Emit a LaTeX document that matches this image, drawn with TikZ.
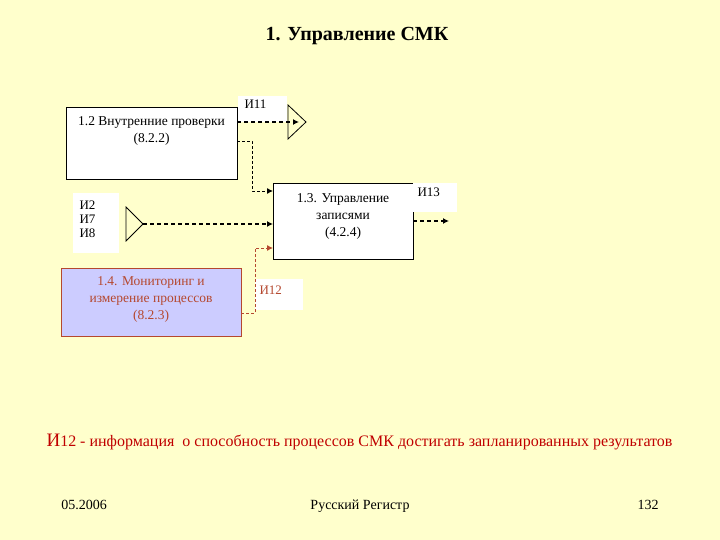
\documentclass[tikz,border=0pt]{standalone}
\usepackage{fontspec}
\setmainfont{Liberation Serif}
\newfontfamily\tnr{Liberation Serif}
\usetikzlibrary{arrows.meta,shapes.geometric}
\definecolor{bgyel}{HTML}{FFFFCC}
\definecolor{brownred}{HTML}{B5482F}
\definecolor{lav}{HTML}{CCCCFF}
\definecolor{capred}{HTML}{C00000}
\tikzset{
  every node/.style={font=\tnr},
  procbox/.style={draw=black, fill=white, line width=0.8pt, inner sep=0pt},
  lblbox/.style={fill=white, draw=none, inner sep=0pt},
  flow/.style={line width=1.4pt, dash pattern=on 4pt off 3pt, -{Latex[length=6pt,width=6pt]}},
  thinflow/.style={line width=0.9pt, dash pattern=on 3pt off 2pt, -{Latex[length=6pt,width=6pt]}},
  boxtxt/.style={font=\tnr\fontsize{13.5}{17}\selectfont, align=center},
  lbltxt/.style={font=\tnr\fontsize{13}{14}\selectfont},
  foottxt/.style={font=\tnr\fontsize{14}{16}\selectfont, anchor=base},
  tri/.style={draw=black, line width=0.8pt, fill=bgyel},
}
\begin{document}
\begin{tikzpicture}[x=1pt,y=-1pt]
\fill[bgyel] (0,0) rectangle (720,540);
\useasboundingbox (0,0) rectangle (720,540);

% title
\node[font=\tnr\fontsize{20}{22}\selectfont\bfseries] (title) at (357,36) {1. Управление СМК};

% box 1.2
\draw[procbox] (66,107) rectangle (237,179);
\node[boxtxt, anchor=north] (t12) at (151.5,113) {1.2 Внутренние проверки\\(8.2.2)};
\coordinate (b12o1) at (237,122);
\coordinate (b12o2) at (237,141);

% label И11
\fill[lblbox] (238,96) rectangle (287,122);
\node[lbltxt, anchor=west] (l11) at (241,104) {И11};

% triangle 1 (output)
\draw[tri] (288,105) -- (306,122) -- (288,139) -- cycle;
\coordinate (tri1) at (299,122);

% box 1.3
\draw[procbox] (273,183) rectangle (413,259);
\node[boxtxt, anchor=north] (t13) at (343,190) {1.3. Управление\\записями\\(4.2.4)};
\coordinate (b13i1) at (273,191);
\coordinate (b13i2) at (273,224);
\coordinate (b13i3) at (273,248);
\coordinate (b13o) at (413,221);

% label И13
\fill[lblbox] (413,183) rectangle (457,212);
\node[lbltxt, anchor=west] (l13) at (414,192) {И13};
\coordinate (out13) at (449,221);

% label И2 И7 И8
\fill[lblbox] (73,193) rectangle (119,253);
\node[font=\tnr\fontsize{13}{14}\selectfont, anchor=north west, align=left] (l278) at (76,197) {И2\\И7\\И8};

% triangle 2 (input)
\draw[tri] (126,207) -- (143,224) -- (126,241) -- cycle;
\coordinate (tri2) at (143,224);

% box 1.4
\draw[fill=lav, draw=brownred, line width=0.9pt] (61,268) rectangle (241,336);
\node[boxtxt, text=brownred, anchor=north] (t14) at (151,273) {1.4. Мониторинг и\\измерение процессов\\(8.2.3)};
\coordinate (b14o) at (241,313);

% label И12
\fill[lblbox] (255,279) rectangle (303,310);
\node[lbltxt, text=brownred, anchor=west] (l12) at (256,290) {И12};

% connectors
\draw[flow] (b12o1) -- (tri1);
\draw[thinflow] (b12o2) -- (252,141) -- (252,191) -- (b13i1);
\draw[flow] (tri2) -- (b13i2);
\draw[flow] (b13o) -- (out13);
\draw[thinflow, color=brownred] (b14o) -- (255,313) -- (255,248) -- (b13i3);

% caption
\node[text=capred, anchor=west, font=\tnr\fontsize{16}{18}\selectfont] (cap) at (43,442) {{\fontsize{19}{20}\selectfont И}12 - информация\ \ о способность процессов СМК достигать запланированных результатов};

% footer
\node[foottxt] (f1) at (84,509) {05.2006};
\node[foottxt] (f2) at (360,509) {Русский Регистр};
\node[foottxt] (f3) at (648,509) {132};
\end{tikzpicture}
\end{document}
